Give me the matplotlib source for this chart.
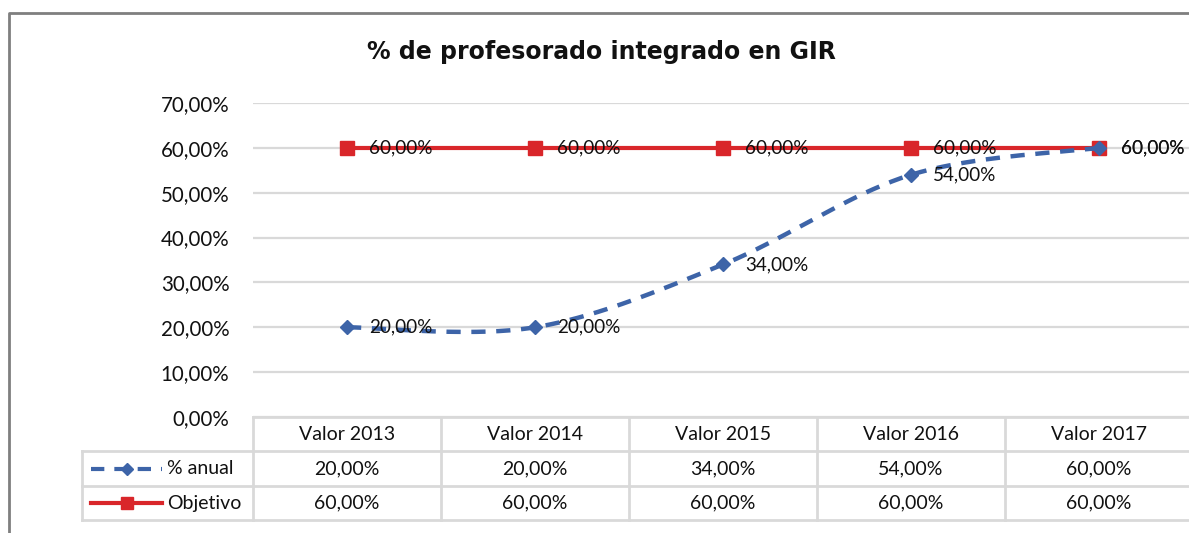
import numpy as np
import matplotlib.pyplot as plt

years = ['Valor 2013', 'Valor 2014', 'Valor 2015', 'Valor 2016', 'Valor 2017']
anual = [0.20, 0.20, 0.34, 0.54, 0.60]
objetivo = [0.60, 0.60, 0.60, 0.60, 0.60]
series_names = ['% anual', 'Objetivo']
yticks = [0.0, 0.1, 0.2, 0.3, 0.4, 0.5, 0.6, 0.7]

W, H = 1189, 533
blue = '#3d64a8'
red = '#d9262a'
grid = '#d9d9d9'
txt = '#111111'

plt.rcParams['font.family'] = ['Lato', 'DejaVu Sans']


def pct(v):
    return ('%.2f%%' % (v * 100)).replace('.', ',')


def smooth(xs, ys, n=40):
    # excel style smoothed line (catmull-rom bezier)
    pts = np.column_stack([xs, ys]).astype(float)
    ext = np.vstack([pts[0], pts, pts[-1]])
    out = []
    t = np.linspace(0, 1, n)[:, None]
    for i in range(len(pts) - 1):
        p0, p1, p2, p3 = ext[i], ext[i + 1], ext[i + 2], ext[i + 3]
        c1 = p1 + (p2 - p0) / 6
        c2 = p2 - (p3 - p1) / 6
        seg = ((1 - t) ** 3) * p1 + 3 * ((1 - t) ** 2) * t * c1 + 3 * (1 - t) * t ** 2 * c2 + t ** 3 * p2
        out.append(seg)
    out = np.vstack(out)
    return out[:, 0], out[:, 1]


fig = plt.figure(figsize=(W / 100, H / 100), dpi=100)

# overlay in pixel coords for border and data table
ov = fig.add_axes([0, 0, 1, 1])
ov.set_xlim(0, W)
ov.set_ylim(H, 0)
ov.axis('off')

left, top0, bottom0 = 253, 103, 417
colw = 188
ax = fig.add_axes([left / W, 1 - bottom0 / H, 5 * colw / W, (bottom0 - top0) / H])
ax.set_xlim(-0.5, 4.5)
ax.set_ylim(0, 0.7)
for s in ax.spines.values():
    s.set_visible(False)
ax.set_xticks([])
ax.set_yticks(yticks)
ax.set_yticklabels([pct(v) for v in yticks], fontsize=14.8, color=txt)
ax.tick_params(axis='y', length=0, pad=17)
ax.grid(axis='y', color=grid, linewidth=1.6)
ax.set_axisbelow(True)
ax.patch.set_alpha(0)

x = np.arange(len(years))
ax.plot(x, objetivo, color=red, linewidth=3, marker='s', markersize=10, zorder=3)
sx, sy = smooth(x, anual)
ax.plot(sx, sy, color=blue, linewidth=3.2, dashes=(3.2, 2.4), zorder=4)
ax.plot(x, anual, linestyle='none', marker='D', markersize=7, color=blue, zorder=5)

for vals in (anual, objetivo):
    for xi, v in zip(x, vals):
        ax.annotate(pct(v), (xi, v), xytext=(22, 0), textcoords='offset pixels',
                    va='center', ha='left', fontsize=13.6, color=txt, zorder=6,
                    annotation_clip=False)

fig.text(601 / W, 1 - 52 / H, '% de profesorado integrado en GIR', ha='center', va='center',
         fontsize=17, fontweight='bold', family='DejaVu Sans', color=txt)

# chart border
ov.plot([9, 9, W + 5], [H + 5, 13, 13], color='#7f7f7f', linewidth=2, clip_on=False)

# data table
rows_y = [417, 451, 486, 520]
right = left + 5 * colw
ov.plot([left, right], [rows_y[0]] * 2, color=grid, linewidth=2)
for yy in rows_y[1:]:
    ov.plot([82, right], [yy, yy], color=grid, linewidth=2)
ov.plot([82, 82], [rows_y[1], rows_y[3]], color=grid, linewidth=2)
for i in range(6):
    xx = left + colw * i
    ov.plot([xx, xx], [rows_y[0], rows_y[3]], color=grid, linewidth=2)

fs = 14
for i, name in enumerate(years):
    cx = left + colw * (i + 0.5)
    ov.text(cx, 434, name, ha='center', va='center', fontsize=fs, color=txt)
    ov.text(cx, 468.5, pct(anual[i]), ha='center', va='center', fontsize=fs, color=txt)
    ov.text(cx, 503, pct(objetivo[i]), ha='center', va='center', fontsize=fs, color=txt)

ov.plot([91, 162], [468.5, 468.5], color=blue, linewidth=3, dashes=(3.2, 2.4))
ov.plot([127], [468.5], marker='D', markersize=6, color=blue)
ov.plot([91, 162], [503, 503], color=red, linewidth=3)
ov.plot([127], [503], marker='s', markersize=9, color=red)
ov.text(167, 468.5, series_names[0], ha='left', va='center', fontsize=fs, color=txt)
ov.text(167, 503, series_names[1], ha='left', va='center', fontsize=fs, color=txt)

fig.savefig('out.png', dpi=100)
